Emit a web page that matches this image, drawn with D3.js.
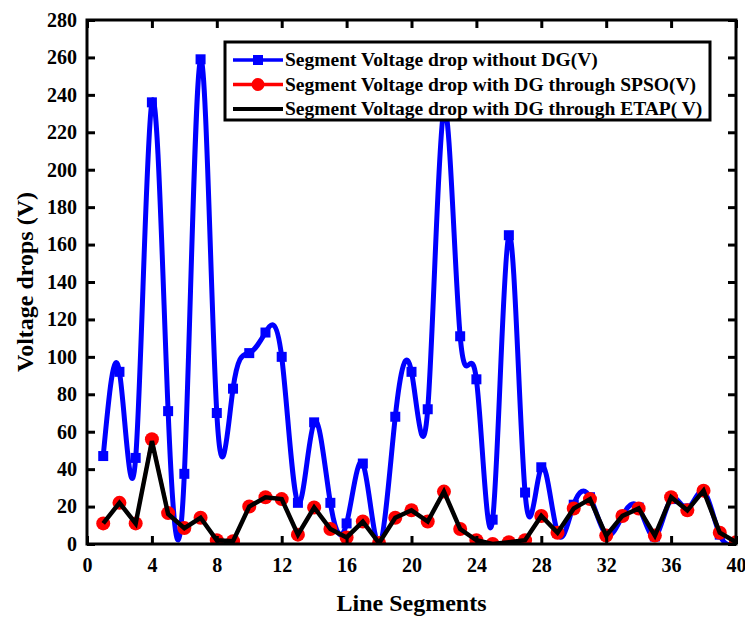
<!DOCTYPE html>
<html>
<head>
<meta charset="utf-8">
<script src="https://cdn.jsdelivr.net/npm/d3@7"></script>
<style>
  body { margin: 0; background: #fff; }
  text { font-family: "Liberation Serif", "Times New Roman", serif; font-weight: bold; }
</style>
</head>
<body>
<script>
// line segment numbers
var segments = d3.range(1, 41)

// voltage drop without DG
var withoutDG = [47, 92, 46, 236, 71, 37.5, 259, 70, 83, 102,
                 113, 100, 22, 65, 22, 11, 43, 0, 68, 92,
                 72, 232, 111, 88, 13, 165, 27.5, 41, 6, 21,
                 25, 5, 15, 19.5, 4, 24, 19, 28, 5, 0]

// voltage drop with DG, SPSO
var withSPSO = [11, 22, 11, 56, 16.5, 8.5, 14, 2, 1.5, 20,
                25, 24, 5, 19.5, 8, 3.5, 12, 0.5, 14, 18,
                12, 28, 8, 2, 0, 1, 2, 15, 6, 19,
                24, 4.5, 15, 19, 4.5, 25, 18, 28.5, 6, 1]

// voltage drop with DG, ETAP
var withETAP = [11, 22, 11, 55, 16, 8.5, 14, 2, 1.5, 20,
                25, 24, 5, 19.5, 8, 3.5, 12, 0.5, 14, 18,
                12, 28, 8, 2, 0, 1, 2, 15, 6, 19,
                24, 4.5, 15, 19, 4.5, 25, 18, 28.5, 6, 1]

var xTicks = d3.range(0, 41, 4)
var yTicks = d3.range(0, 281, 20)

var margin = { top: 20, right: 9, bottom: 73, left: 87 },
    W = 745, H = 617,
    width = W - margin.left - margin.right,
    height = H - margin.top - margin.bottom

var x = d3.scaleLinear().domain([0, 40]).range([0, width])
var y = d3.scaleLinear().domain([0, 280]).range([height, 0])

var svg = d3.select('body').append('svg')
    .attr('width', W)
    .attr('height', H)

var g = svg.append('g')
    .attr('transform', 'translate(' + margin.left + ',' + margin.top + ')')

g.append('clipPath').attr('id', 'clip')
    .append('rect').attr('width', width).attr('height', height)

var toPts = arr => arr.map((v, i) => ({ x: segments[i], y: v }))

// blue smoothed series
var spline = d3.line().x(d => x(d.x)).y(d => y(d.y)).curve(d3.curveNatural)
var straight = d3.line().x(d => x(d.x)).y(d => y(d.y))

var plot = g.append('g').attr('clip-path', 'url(#clip)')

plot.append('path')
    .datum(toPts(withoutDG))
    .attr('fill', 'none')
    .attr('stroke', '#0000ff')
    .attr('stroke-width', 5)
    .attr('stroke-linejoin', 'round')
    .attr('d', spline)

plot.selectAll('.sq')
    .data(toPts(withoutDG))
    .enter().append('rect')
    .attr('x', d => x(d.x) - 5)
    .attr('y', d => y(d.y) - 5)
    .attr('width', 10)
    .attr('height', 10)
    .attr('fill', '#0000ff')

// red series
plot.append('path')
    .datum(toPts(withSPSO))
    .attr('fill', 'none')
    .attr('stroke', '#ff0000')
    .attr('stroke-width', 3)
    .attr('d', straight)

plot.selectAll('.dot')
    .data(toPts(withSPSO))
    .enter().append('circle')
    .attr('cx', d => x(d.x))
    .attr('cy', d => y(d.y))
    .attr('r', 7)
    .attr('fill', '#ff0000')

// black series
plot.append('path')
    .datum(toPts(withETAP))
    .attr('fill', 'none')
    .attr('stroke', '#000')
    .attr('stroke-width', 4.5)
    .attr('stroke-linejoin', 'miter')
    .attr('d', straight)

// axes, ticks inward on all four sides
var tickLen = 8
g.append('g')
    .attr('transform', 'translate(0,' + height + ')')
    .call(d3.axisBottom(x).tickValues(xTicks).tickSize(-tickLen).tickPadding(14))
g.append('g')
    .call(d3.axisTop(x).tickValues(xTicks).tickSize(-tickLen).tickFormat(''))
g.append('g')
    .call(d3.axisLeft(y).tickValues(yTicks).tickSize(-tickLen).tickPadding(10))
g.append('g')
    .attr('transform', 'translate(' + width + ',0)')
    .call(d3.axisRight(y).tickValues(yTicks).tickSize(-tickLen).tickFormat(''))

g.selectAll('.domain').remove()
g.selectAll('.tick line').attr('stroke', '#000').attr('stroke-width', 3)
g.selectAll('.tick text').attr('font-size', 20).attr('fill', '#000')
    .style('font-family', '"Liberation Serif", serif').style('font-weight', 'bold')

g.append('rect')
    .attr('width', width)
    .attr('height', height)
    .attr('fill', 'none')
    .attr('stroke', '#000')
    .attr('stroke-width', 3)

// axis titles
svg.append('text')
    .attr('x', margin.left + width / 2)
    .attr('y', 611)
    .attr('text-anchor', 'middle')
    .attr('font-size', 24)
    .text('Line Segments')

svg.append('text')
    .attr('transform', 'translate(33,' + (margin.top + height / 2) + ') rotate(-90)')
    .attr('text-anchor', 'middle')
    .attr('font-size', 24)
    .text('Voltage drops (V)')

// legend
var legend = svg.append('g').attr('transform', 'translate(225,42)')
legend.append('rect')
    .attr('width', 485)
    .attr('height', 78)
    .attr('fill', '#fff')
    .attr('stroke', '#000')
    .attr('stroke-width', 3)

var items = [
    { label: 'Segment Voltage drop without DG(V)', color: '#0000ff', mark: 'square' },
    { label: 'Segment Voltage drop with DG through SPSO(V)', color: '#ff0000', mark: 'circle' },
    { label: 'Segment Voltage drop with DG through ETAP( V)', color: '#000', mark: 'none' }
]

items.forEach((it, i) => {
    var row = legend.append('g').attr('transform', 'translate(0,' + (18 + i * 24.5) + ')')
    row.append('line')
        .attr('x1', 8).attr('x2', 58)
        .attr('stroke', it.color)
        .attr('stroke-width', it.mark === 'none' ? 4 : 3.5)
    if (it.mark === 'square')
        row.append('rect').attr('x', 28).attr('y', -5).attr('width', 10).attr('height', 10).attr('fill', it.color)
    if (it.mark === 'circle')
        row.append('circle').attr('cx', 33).attr('r', 6.5).attr('fill', it.color)
    row.append('text')
        .attr('x', 60)
        .attr('y', 6)
        .attr('font-size', 19.5)
        .text(it.label)
})
</script>
</body>
</html>
